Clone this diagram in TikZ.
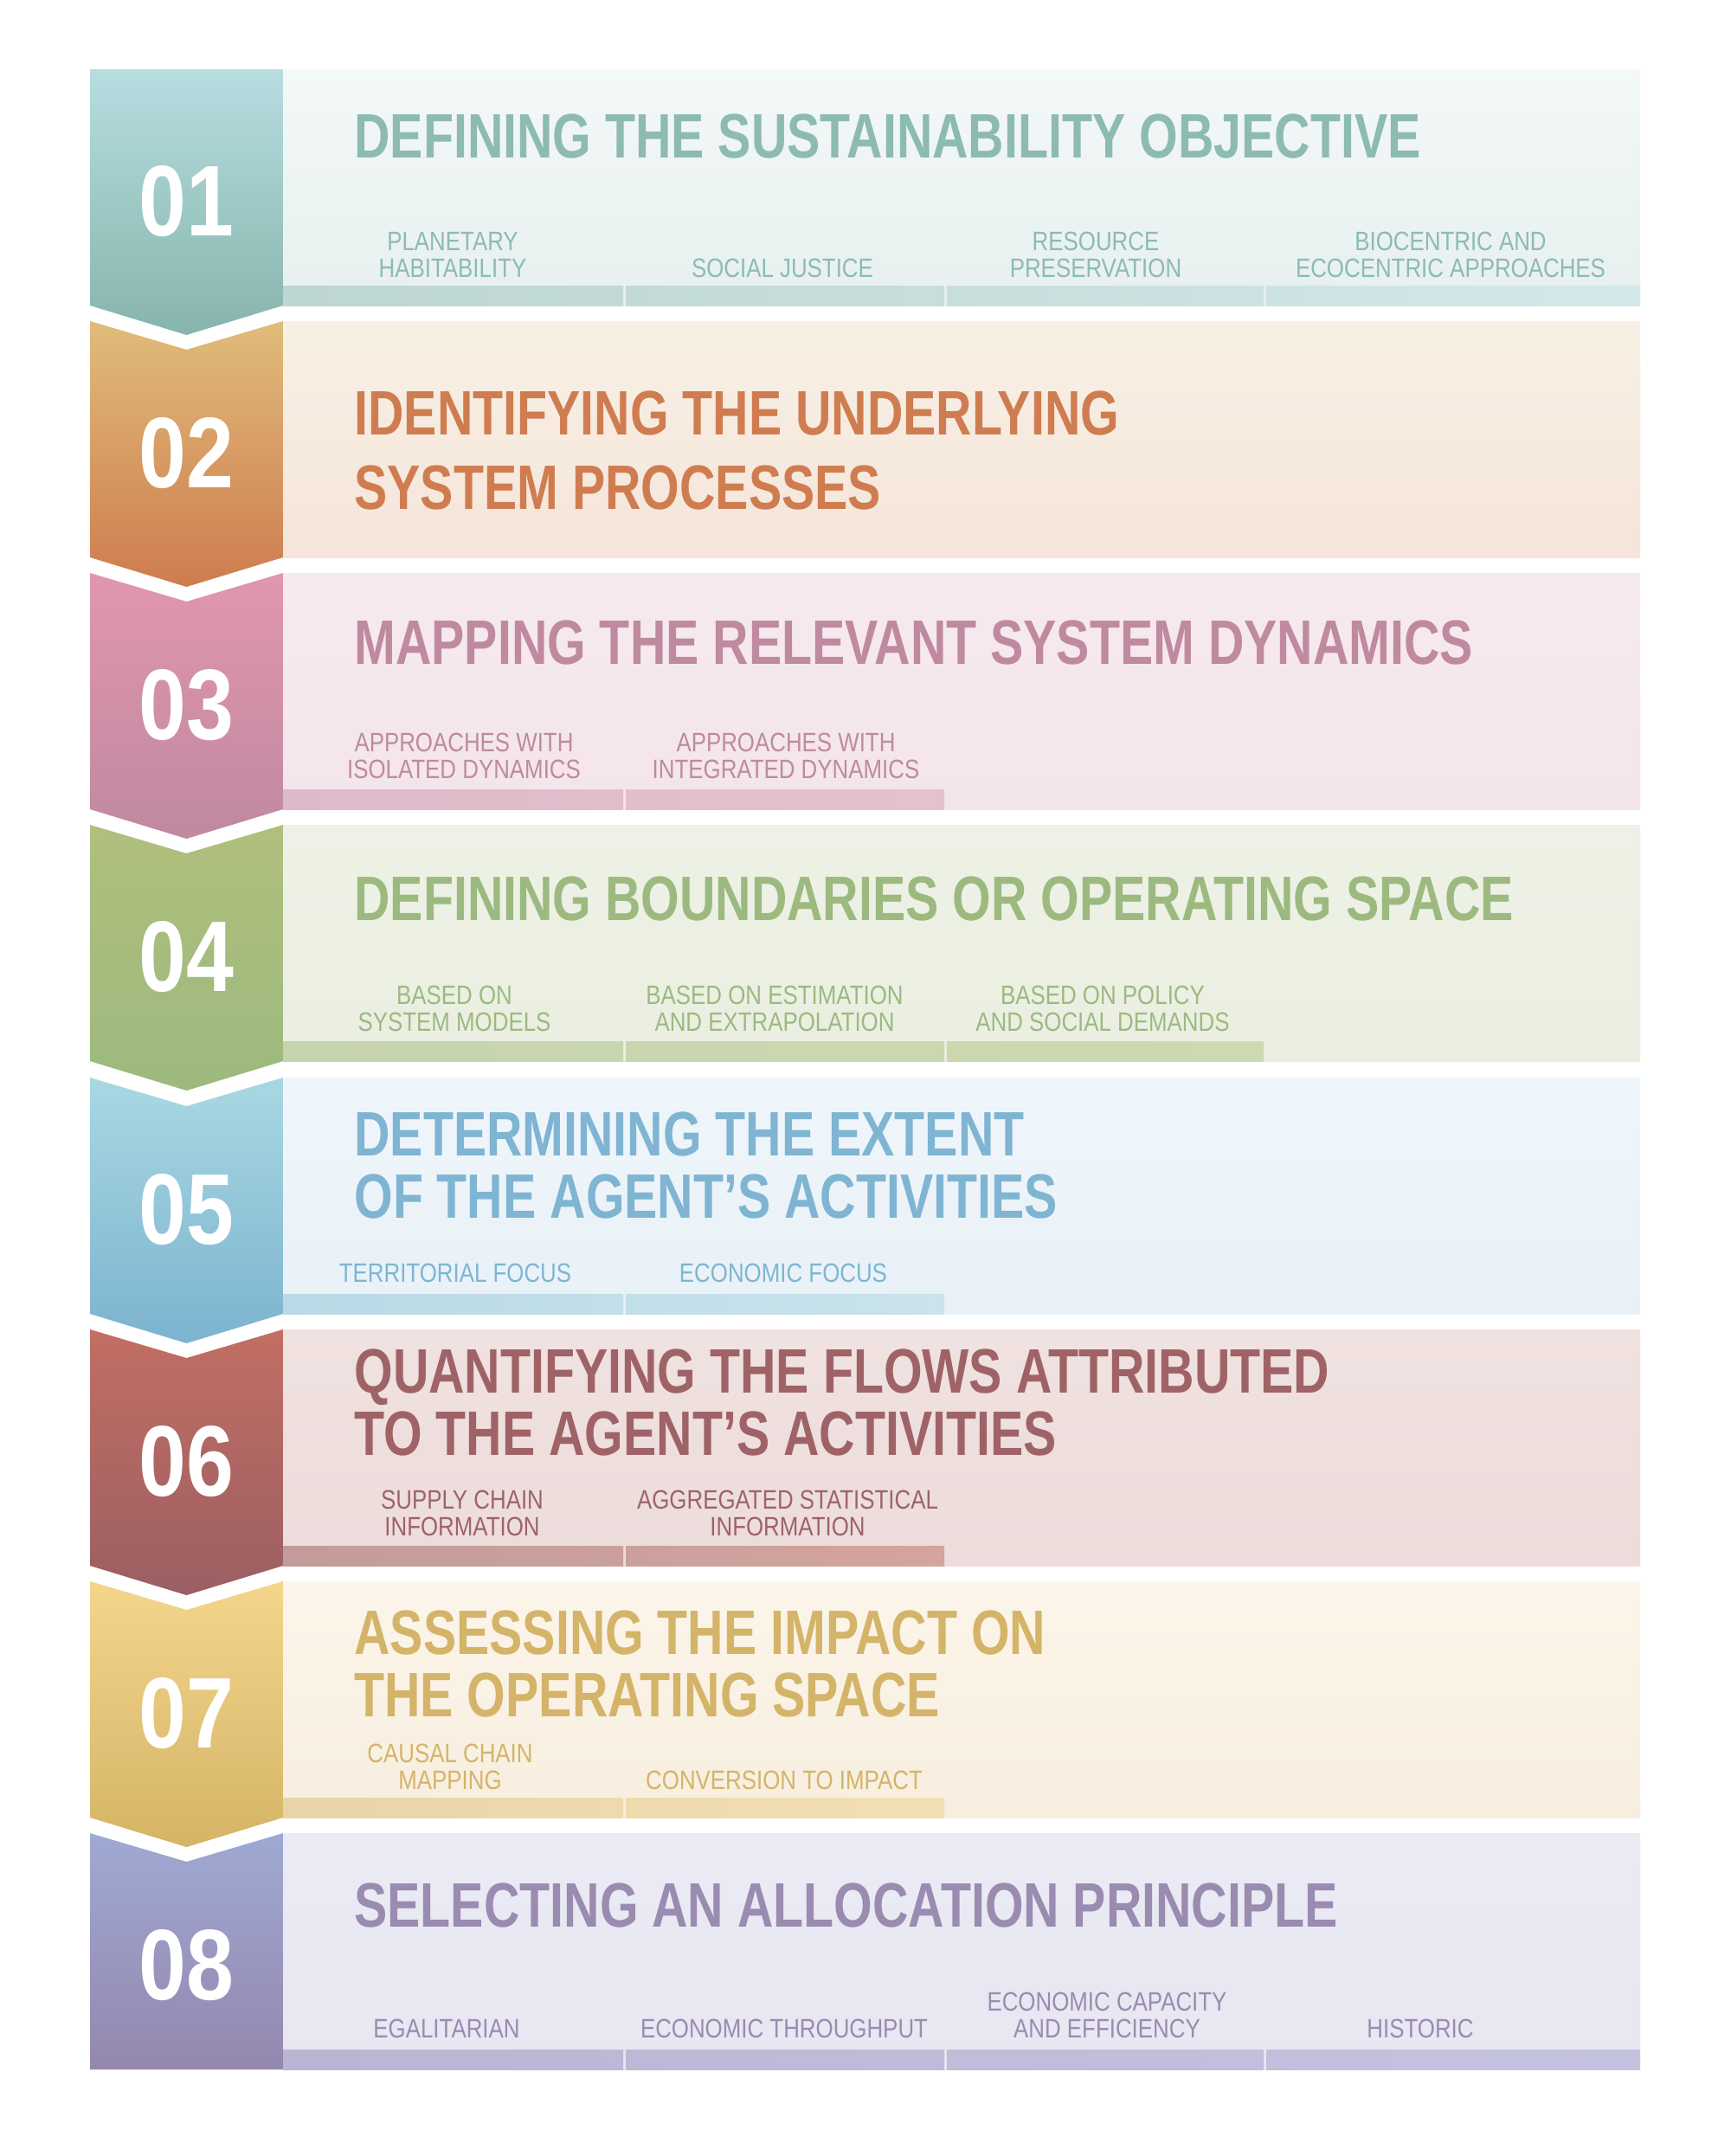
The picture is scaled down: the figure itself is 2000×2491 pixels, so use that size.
\documentclass[tikz,border=0pt]{standalone}
\usepackage{fontspec}
\usepackage{xcolor}
\usepackage{tikz}
\setmainfont{Liberation Sans}
\newfontfamily\headfont{Liberation Sans}[FakeStretch=0.79]
\newfontfamily\labelfont{Liberation Sans}[FakeStretch=0.84]
\newfontfamily\numfont{Liberation Sans}[FakeStretch=0.85]

\definecolor{tealA}{HTML}{B7DDE0}\definecolor{tealB}{HTML}{86B5AD}\definecolor{tealT}{HTML}{8DBBB1}
\definecolor{tealP}{HTML}{F3F8F8}\definecolor{tealQ}{HTML}{E7F0EF}\definecolor{tealL}{HTML}{BED6D2}\definecolor{tealR}{HTML}{D3E8EA}
\definecolor{oranA}{HTML}{E0BC7A}\definecolor{oranB}{HTML}{CE7C4E}\definecolor{oranT}{HTML}{CF7D50}
\definecolor{oranP}{HTML}{F8F0E4}\definecolor{oranQ}{HTML}{F5E5DB}
\definecolor{pinkA}{HTML}{E196AF}\definecolor{pinkB}{HTML}{BF89A0}\definecolor{pinkT}{HTML}{BF8AA0}
\definecolor{pinkP}{HTML}{F7EAEE}\definecolor{pinkQ}{HTML}{F3E5EA}\definecolor{pinkL}{HTML}{DDBACA}\definecolor{pinkR}{HTML}{E7C0CE}
\definecolor{grenA}{HTML}{B0BF7D}\definecolor{grenB}{HTML}{9CB97E}\definecolor{grenT}{HTML}{9CBA80}
\definecolor{grenP}{HTML}{EEF1E5}\definecolor{grenQ}{HTML}{EAEFE1}\definecolor{grenL}{HTML}{C6D4AE}\definecolor{grenR}{HTML}{CDD9B0}
\definecolor{blueA}{HTML}{A8D8E2}\definecolor{blueB}{HTML}{7CB3CF}\definecolor{blueT}{HTML}{7FB5D2}
\definecolor{blueP}{HTML}{EFF6FB}\definecolor{blueQ}{HTML}{E8F1F7}\definecolor{blueL}{HTML}{B9D9E6}\definecolor{blueR}{HTML}{CAE3EC}
\definecolor{rednA}{HTML}{C26E63}\definecolor{rednB}{HTML}{9B5F63}\definecolor{rednT}{HTML}{9F6367}
\definecolor{rednP}{HTML}{F0E2E0}\definecolor{rednQ}{HTML}{ECDCDB}\definecolor{rednL}{HTML}{C29C9A}\definecolor{rednR}{HTML}{D4A49D}
\definecolor{yeloA}{HTML}{F3D58C}\definecolor{yeloB}{HTML}{D5B466}\definecolor{yeloT}{HTML}{D4B469}
\definecolor{yeloP}{HTML}{FCF5E9}\definecolor{yeloQ}{HTML}{F7EEDF}\definecolor{yeloL}{HTML}{E9D4A8}\definecolor{yeloR}{HTML}{F3E0B2}
\definecolor{purpA}{HTML}{9FA9D3}\definecolor{purpB}{HTML}{9487AE}\definecolor{purpT}{HTML}{9A8BB0}
\definecolor{purpP}{HTML}{EAEBF5}\definecolor{purpQ}{HTML}{E8E6F1}\definecolor{purpL}{HTML}{BBB4D3}\definecolor{purpR}{HTML}{C4C3DF}

\begin{document}
\begin{tikzpicture}[x=0.5pt,y=-0.5pt,
	numtext/.style={text=white,inner sep=0pt,font=\numfont\bfseries\fontsize{58}{58}\selectfont},
	headtext/.style={anchor=base west,align=left,inner sep=0pt,font=\headfont\bfseries\fontsize{36.3}{36}\selectfont},
	subtext/.style={anchor=base,align=center,inner sep=0pt,font=\labelfont\fontsize{15.4}{15.3}\selectfont}]
	\useasboundingbox[fill=white] (0,0) rectangle (2000,2491);

	% 01
	\shade[top color=tealA,bottom color=tealB] (104,80) -- (327,80) -- (327,353) -- (215.5,387) -- (104,353) -- cycle;
	\shade[top color=tealP,bottom color=tealQ] (327,80) rectangle (1895,353);
	\shade[left color=tealL,right color=tealL!80!tealR] (327,330) rectangle (720,353);
	\shade[left color=tealL!80!tealR,right color=tealL!55!tealR] (723,330) rectangle (1091,353);
	\shade[left color=tealL!55!tealR,right color=tealL!30!tealR] (1094,330) rectangle (1460,353);
	\shade[left color=tealL!30!tealR,right color=tealR] (1463,330) rectangle (1895,353);
	\node[numtext] (n1) at (215.5,233) {01};
	\node[headtext,text=tealT] (h1) at (409,182) {DEFINING THE SUSTAINABILITY OBJECTIVE};
	\node[subtext,text=tealT] (s11) at (523,320) {PLANETARY\\HABITABILITY};
	\node[subtext,text=tealT] (s12) at (904,320) {SOCIAL JUSTICE};
	\node[subtext,text=tealT] (s13) at (1266,320) {RESOURCE\\PRESERVATION};
	\node[subtext,text=tealT] (s14) at (1676,320) {BIOCENTRIC AND\\ECOCENTRIC APPROACHES};

	% 02
	\shade[top color=oranA,bottom color=oranB] (104,371) -- (215.5,404) -- (327,371) -- (327,644) -- (215.5,678) -- (104,644) -- cycle;
	\shade[top color=oranP,bottom color=oranQ] (327,371) rectangle (1895,644);
	\node[numtext] (n2) at (215.5,524) {02};
	\node[headtext,text=oranT] (h2) at (409,588) {IDENTIFYING THE UNDERLYING\\[7pt]SYSTEM PROCESSES};

	% 03
	\shade[top color=pinkA,bottom color=pinkB] (104,662) -- (215.5,695) -- (327,662) -- (327,935) -- (215.5,969) -- (104,935) -- cycle;
	\shade[top color=pinkP,bottom color=pinkQ] (327,662) rectangle (1895,935);
	\shade[left color=pinkL,right color=pinkL!50!pinkR] (327,912) rectangle (720,935);
	\shade[left color=pinkL!50!pinkR,right color=pinkR] (723,912) rectangle (1091,935);
	\node[numtext] (n3) at (215.5,815) {03};
	\node[headtext,text=pinkT] (h3) at (409,767) {MAPPING THE RELEVANT SYSTEM DYNAMICS};
	\node[subtext,text=pinkT] (s31) at (536,899) {APPROACHES WITH\\ISOLATED DYNAMICS};
	\node[subtext,text=pinkT] (s32) at (908,899) {APPROACHES WITH\\INTEGRATED DYNAMICS};

	% 04
	\shade[top color=grenA,bottom color=grenB] (104,953) -- (215.5,986) -- (327,953) -- (327,1226) -- (215.5,1260) -- (104,1226) -- cycle;
	\shade[top color=grenP,bottom color=grenQ] (327,953) rectangle (1895,1226);
	\shade[left color=grenL,right color=grenL!65!grenR] (327,1203) rectangle (720,1226);
	\shade[left color=grenL!65!grenR,right color=grenL!30!grenR] (723,1203) rectangle (1091,1226);
	\shade[left color=grenL!30!grenR,right color=grenR] (1094,1203) rectangle (1460,1226);
	\node[numtext] (n4) at (215.5,1106) {04};
	\node[headtext,text=grenT] (h4) at (409,1063) {DEFINING BOUNDARIES OR OPERATING SPACE};
	\node[subtext,text=grenT] (s41) at (525,1191) {BASED ON\\SYSTEM MODELS};
	\node[subtext,text=grenT] (s42) at (895,1191) {BASED ON ESTIMATION\\AND EXTRAPOLATION};
	\node[subtext,text=grenT] (s43) at (1274,1191) {BASED ON POLICY\\AND SOCIAL DEMANDS};

	% 05
	\shade[top color=blueA,bottom color=blueB] (104,1245) -- (215.5,1278) -- (327,1245) -- (327,1518) -- (215.5,1552) -- (104,1518) -- cycle;
	\shade[top color=blueP,bottom color=blueQ] (327,1245) rectangle (1895,1518);
	\shade[left color=blueL,right color=blueL!50!blueR] (327,1495) rectangle (720,1518);
	\shade[left color=blueL!50!blueR,right color=blueR] (723,1495) rectangle (1091,1518);
	\node[numtext] (n5) at (215.5,1398) {05};
	\node[headtext,text=blueT] (h5) at (409,1407) {DETERMINING THE EXTENT\\OF THE AGENT’S ACTIVITIES};
	\node[subtext,text=blueT] (s51) at (526,1481) {TERRITORIAL FOCUS};
	\node[subtext,text=blueT] (s52) at (905,1481) {ECONOMIC FOCUS};

	% 06
	\shade[top color=rednA,bottom color=rednB] (104,1536) -- (215.5,1569) -- (327,1536) -- (327,1809) -- (215.5,1843) -- (104,1809) -- cycle;
	\shade[top color=rednP,bottom color=rednQ] (327,1536) rectangle (1895,1809);
	\shade[left color=rednL,right color=rednL!50!rednR] (327,1786) rectangle (720,1809);
	\shade[left color=rednL!50!rednR,right color=rednR] (723,1786) rectangle (1091,1809);
	\node[numtext] (n6) at (215.5,1689) {06};
	\node[headtext,text=rednT] (h6) at (409,1681) {QUANTIFYING THE FLOWS ATTRIBUTED\\TO THE AGENT’S ACTIVITIES};
	\node[subtext,text=rednT] (s61) at (534,1774) {SUPPLY CHAIN\\INFORMATION};
	\node[subtext,text=rednT] (s62) at (910,1774) {AGGREGATED STATISTICAL\\INFORMATION};

	% 07
	\shade[top color=yeloA,bottom color=yeloB] (104,1827) -- (215.5,1860) -- (327,1827) -- (327,2100) -- (215.5,2134) -- (104,2100) -- cycle;
	\shade[top color=yeloP,bottom color=yeloQ] (327,1827) rectangle (1895,2100);
	\shade[left color=yeloL,right color=yeloL!50!yeloR] (327,2077) rectangle (720,2100);
	\shade[left color=yeloL!50!yeloR,right color=yeloR] (723,2077) rectangle (1091,2100);
	\node[numtext] (n7) at (215.5,1980) {07};
	\node[headtext,text=yeloT] (h7) at (409,1983) {ASSESSING THE IMPACT ON\\THE OPERATING SPACE};
	\node[subtext,text=yeloT] (s71) at (520,2067) {CAUSAL CHAIN\\MAPPING};
	\node[subtext,text=yeloT] (s72) at (906,2067) {CONVERSION TO IMPACT};

	% 08
	\shade[top color=purpA,bottom color=purpB] (104,2118) -- (215.5,2151) -- (327,2118) -- (327,2391) -- (104,2391) -- cycle;
	\shade[top color=purpP,bottom color=purpQ] (327,2118) rectangle (1895,2391);
	\shade[left color=purpL,right color=purpL!75!purpR] (327,2368) rectangle (720,2391);
	\shade[left color=purpL!75!purpR,right color=purpL!50!purpR] (723,2368) rectangle (1091,2391);
	\shade[left color=purpL!50!purpR,right color=purpL!25!purpR] (1094,2368) rectangle (1460,2391);
	\shade[left color=purpL!25!purpR,right color=purpR] (1463,2368) rectangle (1895,2391);
	\node[numtext] (n8) at (215.5,2271) {08};
	\node[headtext,text=purpT] (h8) at (409,2226) {SELECTING AN ALLOCATION PRINCIPLE};
	\node[subtext,text=purpT] (s81) at (516,2354) {EGALITARIAN};
	\node[subtext,text=purpT] (s82) at (906,2354) {ECONOMIC THROUGHPUT};
	\node[subtext,text=purpT] (s83) at (1279,2354) {ECONOMIC CAPACITY\\AND EFFICIENCY};
	\node[subtext,text=purpT] (s84) at (1641,2354) {HISTORIC};
\end{tikzpicture}
\end{document}
